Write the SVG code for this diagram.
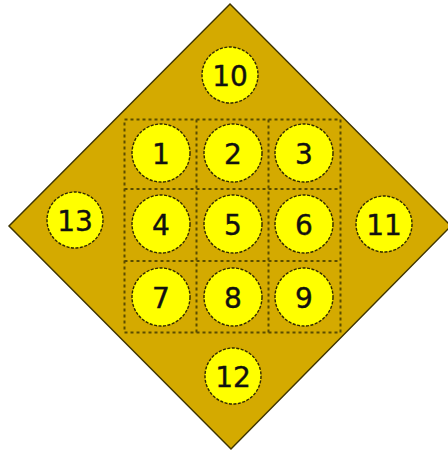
<svg xmlns="http://www.w3.org/2000/svg" width="448" height="452" viewBox="0 0 448 452">
<style>
.board{fill:#d4aa00;stroke:#3f3500;stroke-width:1.5}
.grid{fill:none;stroke:#5a4c00;stroke-width:2;stroke-dasharray:3 3}
.c{fill:#ffff00;stroke:#2e2800;stroke-width:1.4;stroke-dasharray:3 1.5}
.t{font-family:"DejaVu Sans",Verdana,sans-serif;font-size:28px;fill:#111;stroke:#111;stroke-width:0.4;text-anchor:middle;dominant-baseline:central}
</style>
<rect width="448" height="452" fill="#ffffff"/>
<g id="board">
<polygon class="board" points="230,4 451,226 231,449 9,226"/>
</g>
<g id="grid">
<rect class="grid" x="124.5" y="119.5" width="216" height="213"/>
<line class="grid" x1="196.5" y1="119.5" x2="196.5" y2="332.5"/>
<line class="grid" x1="268.5" y1="119.5" x2="268.5" y2="332.5"/>
<line class="grid" x1="124.5" y1="189" x2="340.5" y2="189"/>
<line class="grid" x1="124.5" y1="261" x2="340.5" y2="261"/>
</g>
<g id="n1"><circle class="c" cx="161" cy="153" r="29"/><text class="t" x="161" y="154">1</text></g>
<g id="n2"><circle class="c" cx="233" cy="153" r="29"/><text class="t" x="233" y="154">2</text></g>
<g id="n3"><circle class="c" cx="304" cy="153" r="29"/><text class="t" x="304" y="154">3</text></g>
<g id="n4"><circle class="c" cx="161" cy="224" r="29"/><text class="t" x="161" y="225">4</text></g>
<g id="n5"><circle class="c" cx="233" cy="224" r="29"/><text class="t" x="233" y="225">5</text></g>
<g id="n6"><circle class="c" cx="304" cy="224" r="29"/><text class="t" x="304" y="225">6</text></g>
<g id="n7"><circle class="c" cx="161" cy="297" r="29"/><text class="t" x="161" y="298">7</text></g>
<g id="n8"><circle class="c" cx="233" cy="297" r="29"/><text class="t" x="233" y="298">8</text></g>
<g id="n9"><circle class="c" cx="304" cy="297" r="29"/><text class="t" x="304" y="298">9</text></g>
<g id="n10"><circle class="c" cx="230" cy="75" r="28"/><text class="t" x="230" y="76">10</text></g>
<g id="n11"><circle class="c" cx="384" cy="224" r="28"/><text class="t" x="384" y="225">11</text></g>
<g id="n12"><circle class="c" cx="233" cy="376" r="28"/><text class="t" x="233" y="377">12</text></g>
<g id="n13"><circle class="c" cx="75" cy="220" r="28"/><text class="t" x="75" y="221">13</text></g>
</svg>
